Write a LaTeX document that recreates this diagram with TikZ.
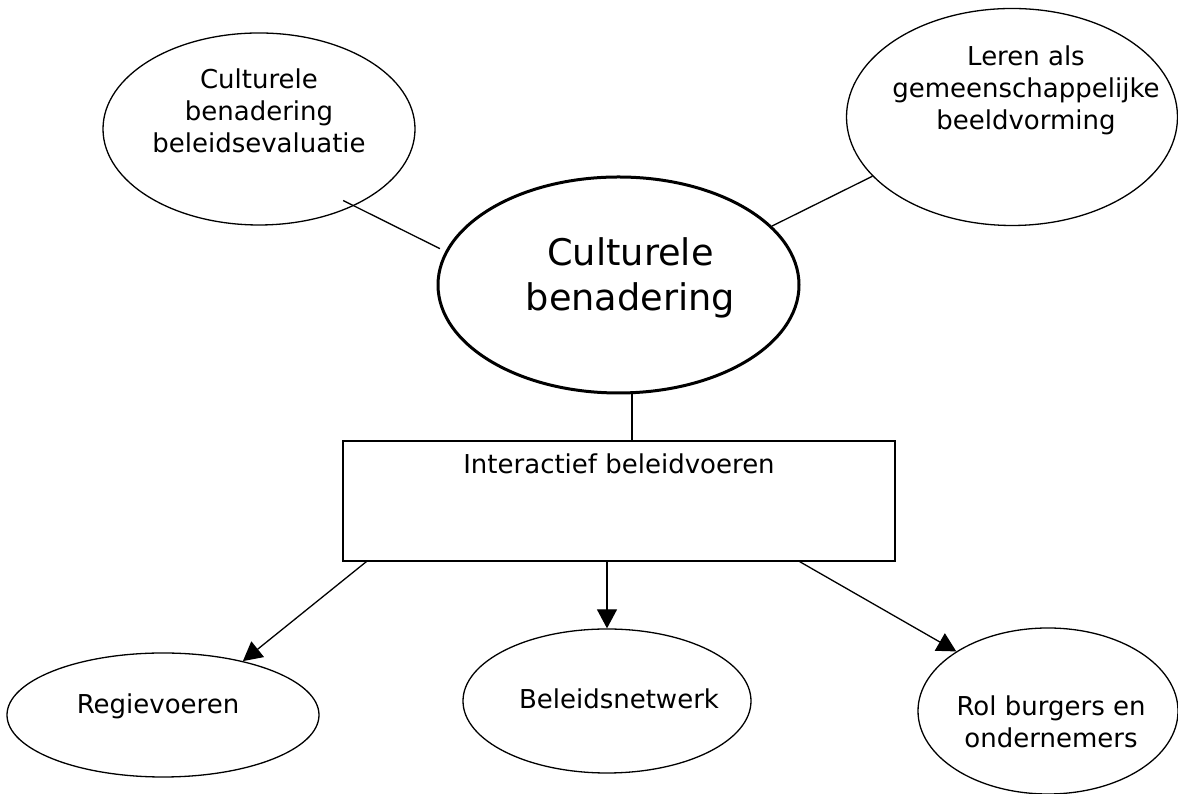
\documentclass[tikz,border=0pt]{standalone}
\usepackage{fontspec}
\setmainfont{DejaVu Sans}
\usetikzlibrary{calc}
\usetikzlibrary{positioning}
\usetikzlibrary{shapes.geometric}
\usetikzlibrary{arrows.meta}

\begin{document}
\begin{tikzpicture}[x=1pt,y=1pt,
%    every node/.style={draw},
    oval/.style={draw,shape=ellipse,line width=1.3pt,inner sep=0pt},
    kader/.style={draw,shape=rectangle,line width=1.3pt,inner sep=0pt},
    txt/.style={align=center,inner sep=0pt,font=\fontsize{26}{32}\selectfont},
    groottxt/.style={align=center,inner sep=0pt,font=\fontsize{36.7}{45}\selectfont},
    link/.style={line width=1.3pt},
    pijl/.style={-{Triangle[length=19pt,width=20pt]},line width=1.3pt}]

    \useasboundingbox (0,0) rectangle (1178,794);

    \begin{scope}[every node/.append style={oval}]
      \node[minimum width=312,minimum height=192] (evaluatie) at (259,665) {};
      \node[minimum width=331,minimum height=217] (beeld) at (1012,677) {};
      \node[minimum width=361,minimum height=216,line width=3pt] (kern) at (618.5,509) {};
      \node[minimum width=312,minimum height=124] (regie) at (163,79) {};
      \node[minimum width=288,minimum height=144] (netwerk) at (607,93) {};
      \node[minimum width=260,minimum height=166] (rol) at (1048,83) {};
    \end{scope}
    \node[kader,minimum width=552,minimum height=120] (beleid) at (619,293) {};

    \begin{scope}[every node/.append style={txt}]
      \node[below=36pt of evaluatie.north] (evaluatietxt) {Culturele\\benadering\\beleidsevaluatie};
      \node[below=38pt of beeld.north,xshift=14pt] (beeldtxt) {Leren als\\gemeenschappelijke\\beeldvorming};
      \node[below=13pt of beleid.north] (beleidtxt) {Interactief beleidvoeren};
      \node[below=41pt of regie.north,xshift=-5pt] (regietxt) {Regievoeren};
      \node[below=60pt of netwerk.north,xshift=12pt] (netwerktxt) {Beleidsnetwerk};
      \node[below=68pt of rol.north,xshift=3pt] (roltxt) {Rol burgers en\\ondernemers};
    \end{scope}
    \node[groottxt,below=62pt of kern.north,xshift=12pt] (kerntxt) {Culturele\\benadering};

    \draw[link,shorten <=-12pt,shorten >=6pt] (evaluatie.-39) -- (kern.169);
    \draw[link] (kern.21) -- (beeld.203);
    \draw[link] (kern.-83) -- (kern.-83 |- beleid.north);

    \draw[pijl] ($(beleid.south west)+(24,0)$) -- (regie.34);
    \draw[pijl] (netwerk.north |- beleid.south) -- (netwerk.north);
    \draw[pijl] ($(beleid.south east)+(-96,0)$) -- (rol.147);
  \end{tikzpicture}
\end{document}
